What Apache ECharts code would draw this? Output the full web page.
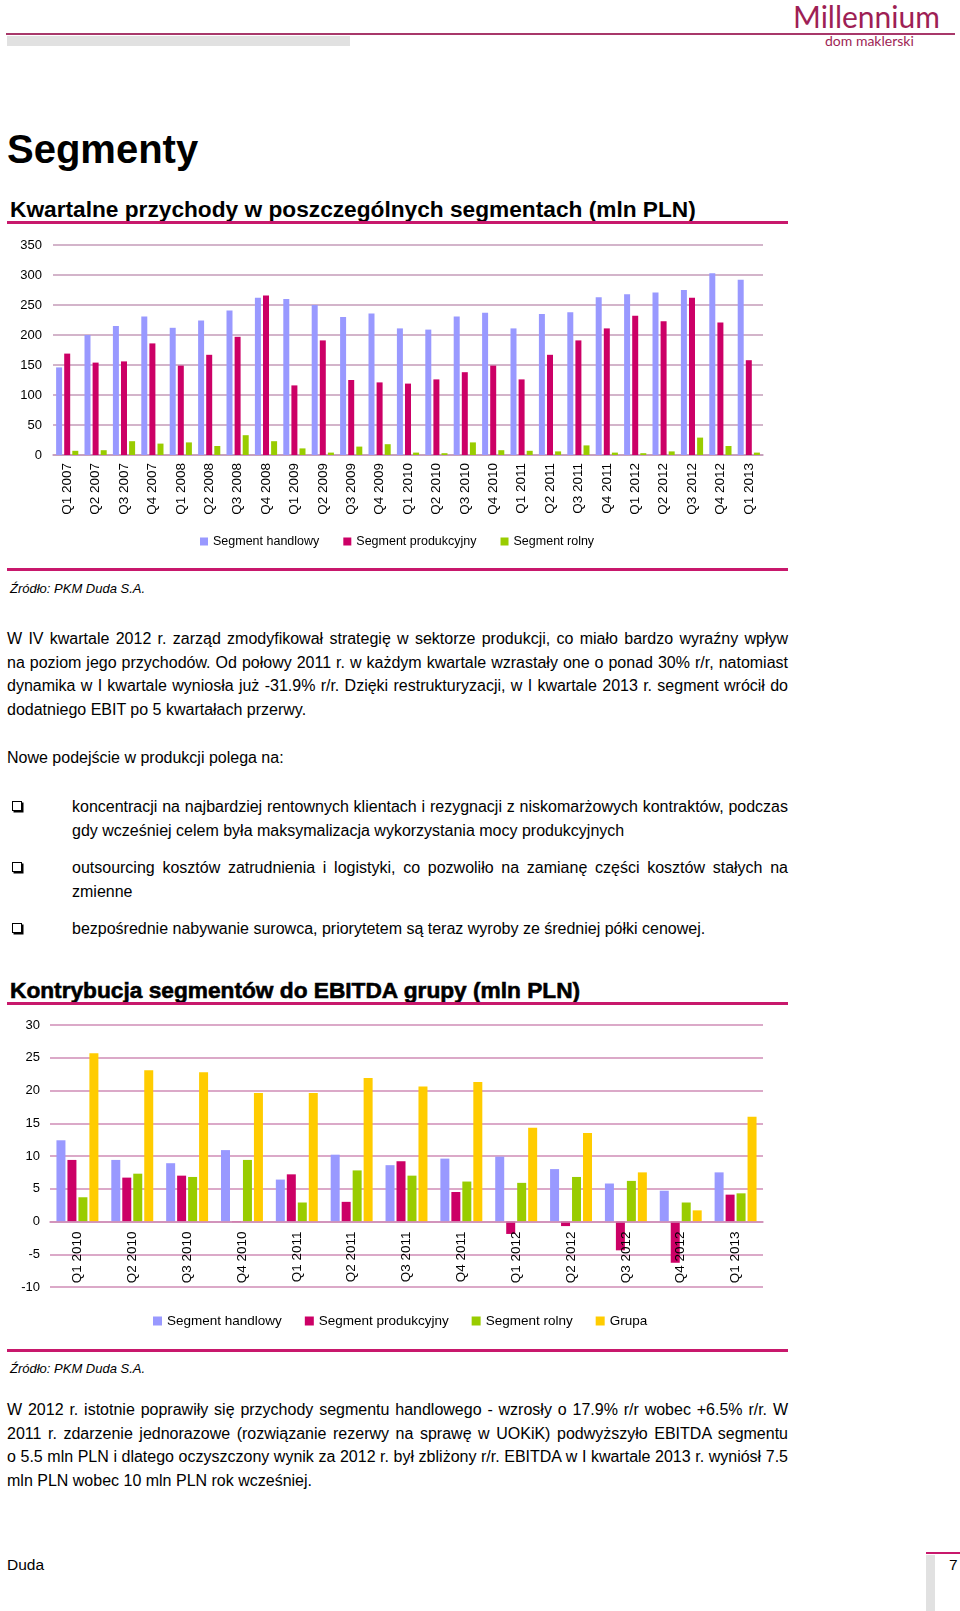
<!DOCTYPE html>
<html>
<head>
<meta charset="utf-8">
<script src="https://cdn.jsdelivr.net/npm/echarts@6/dist/echarts.min.js"></script>
<style>
  html, body { margin: 0; padding: 0; background: #fff; }
  body { width: 960px; height: 1611px; position: relative; overflow: hidden; font-family: 'Liberation Sans', Arial, sans-serif; color: #000; }
  .abs { position: absolute; }
  .h1 { left: 7px; top: 126px; font-size: 40px; font-weight: bold; line-height: 1.15; }
  .h2 { left: 10px; font-size: 22.7px; font-weight: bold; line-height: 1.15; white-space: nowrap; }
  .h2b { -webkit-text-stroke: 0.6px #000; }
  .rule { left: 7px; width: 781px; height: 3px; background: #C8186C; }
  .src { left: 10px; font-size: 13px; font-style: italic; line-height: 1.15; white-space: nowrap; }
  .para { left: 7px; width: 781px; font-size: 16px; line-height: 23.7px; }
  .para div { white-space: nowrap; }
  .j { text-align: justify; text-align-last: justify; }
  .bul { left: 72px; width: 716px; font-size: 16px; line-height: 23.7px; }
  .bul div { white-space: nowrap; }
  .box { position: absolute; left: -60px; top: 6px; width: 8px; height: 8px; border: 1px solid #000; box-shadow: 1.5px 1.5px 0 #000; }
</style>
</head>
<body>
<!-- header -->
<div class="abs" style="left:6px;top:33px;width:949px;height:2px;background:#A8386A;"></div>
<div class="abs" style="left:7px;top:36px;width:343px;height:10px;background:#E1E1E1;"></div>
<div class="abs" style="left:793px;top:-1px;font-family:Lato,'Open Sans',sans-serif;font-size:30px;color:#9E1F55;line-height:1.15;white-space:nowrap;">Millennium</div>
<div class="abs" style="left:825px;top:33px;font-family:Lato,'Open Sans',sans-serif;font-size:14px;color:#9E1F55;line-height:1.15;white-space:nowrap;">dom maklerski</div>

<div class="abs h1">Segmenty</div>

<div class="abs h2" style="top:196px;">Kwartalne przychody w poszczególnych segmentach (mln PLN)</div>
<div class="abs rule" style="top:221px;"></div>

<div id="c1" class="abs" style="left:0;top:230px;width:800px;height:330px;"></div>

<div class="abs rule" style="top:568px;"></div>
<div class="abs src" style="top:582px;">Źródło: PKM Duda S.A.</div>

<div class="abs para" style="top:627px;">
  <div class="j">W IV kwartale 2012 r. zarząd zmodyfikował strategię w sektorze produkcji, co miało bardzo wyraźny wpływ</div>
  <div class="j">na poziom jego przychodów. Od połowy 2011 r. w każdym kwartale wzrastały one o ponad 30% r/r, natomiast</div>
  <div class="j">dynamika w I kwartale wyniosła już -31.9% r/r. Dzięki restrukturyzacji, w I kwartale 2013 r. segment wrócił do</div>
  <div>dodatniego EBIT po 5 kwartałach przerwy.</div>
</div>

<div class="abs para" style="top:746px;"><div>Nowe podejście w produkcji polega na:</div></div>

<div class="abs bul" style="top:795px;">
  <span class="box"></span>
  <div class="j">koncentracji na najbardziej rentownych klientach i rezygnacji z niskomarżowych kontraktów, podczas</div>
  <div>gdy wcześniej celem była maksymalizacja wykorzystania mocy produkcyjnych</div>
</div>
<div class="abs bul" style="top:856px;">
  <span class="box"></span>
  <div class="j">outsourcing kosztów zatrudnienia i logistyki, co pozwoliło na zamianę części kosztów stałych na</div>
  <div>zmienne</div>
</div>
<div class="abs bul" style="top:917px;">
  <span class="box"></span>
  <div>bezpośrednie nabywanie surowca, priorytetem są teraz wyroby ze średniej półki cenowej.</div>
</div>

<div class="abs h2 h2b" style="top:977px;">Kontrybucja segmentów do EBITDA grupy (mln PLN)</div>
<div class="abs rule" style="top:1002px;"></div>

<div id="c2" class="abs" style="left:0;top:1010px;width:800px;height:338px;"></div>

<div class="abs rule" style="top:1349px;"></div>
<div class="abs src" style="top:1362px;">Źródło: PKM Duda S.A.</div>

<div class="abs para" style="top:1398px;">
  <div class="j">W 2012 r. istotnie poprawiły się przychody segmentu handlowego - wzrosły o 17.9% r/r wobec +6.5% r/r. W</div>
  <div class="j">2011 r. zdarzenie jednorazowe (rozwiązanie rezerwy na sprawę w UOKiK) podwyższyło EBITDA segmentu</div>
  <div class="j">o 5.5 mln PLN i dlatego oczyszczony wynik za 2012 r. był zbliżony r/r. EBITDA w I kwartale 2013 r. wyniósł 7.5</div>
  <div>mln PLN wobec 10 mln PLN rok wcześniej.</div>
</div>

<!-- footer -->
<div class="abs" style="left:7px;top:1556px;font-size:15.5px;line-height:1.15;">Duda</div>
<div class="abs" style="left:926px;top:1552px;width:34px;height:2px;background:#C8186C;"></div>
<div class="abs" style="left:926px;top:1555px;width:9px;height:56px;background:#E1E1E1;"></div>
<div class="abs" style="left:949px;top:1556px;font-size:15.5px;line-height:1.15;">7</div>

<script>
// ---------- Chart 1 data: quarterly revenues by segment (mln PLN) ----------
var quarters1 = ['Q1 2007','Q2 2007','Q3 2007','Q4 2007','Q1 2008','Q2 2008','Q3 2008','Q4 2008',
  'Q1 2009','Q2 2009','Q3 2009','Q4 2009','Q1 2010','Q2 2010','Q3 2010','Q4 2010',
  'Q1 2011','Q2 2011','Q3 2011','Q4 2011','Q1 2012','Q2 2012','Q3 2012','Q4 2012','Q1 2013'];
var handlowy1 = [146, 200, 215, 231, 212, 224, 241, 262, 260, 250, 230, 236, 211, 209, 231, 237,
  211, 235, 238, 263, 268, 271, 275, 303, 292];
var produkcyjny1 = [169, 154, 156, 186, 149, 167, 197, 266, 116, 191, 125, 121, 119, 126, 138, 149,
  126, 167, 191, 211, 232, 223, 262, 221, 158];
var rolny1 = [7, 8, 23, 19, 21, 15, 33, 23, 11, 4, 14, 18, 4, 3, 21, 8,
  7, 6, 16, 4, 3, 6, 29, 15, 4];
var ticks1 = { min: 0, max: 350, interval: 50 };

// ---------- Chart 2 data: EBITDA contribution by segment (mln PLN) ----------
var quarters2 = ['Q1 2010','Q2 2010','Q3 2010','Q4 2010','Q1 2011','Q2 2011','Q3 2011','Q4 2011',
  'Q1 2012','Q2 2012','Q3 2012','Q4 2012','Q1 2013'];
var handlowy2 = [12.4, 9.4, 8.9, 10.9, 6.4, 10.2, 8.6, 9.6, 9.9, 8.0, 5.8, 4.7, 7.5];
var produkcyjny2 = [9.4, 6.7, 7.0, -0.1, 7.2, 3.0, 9.2, 4.5, -1.9, -0.7, -4.4, -6.3, 4.1];
var rolny2 = [3.7, 7.3, 6.8, 9.4, 2.9, 7.8, 7.0, 6.1, 5.9, 6.8, 6.2, 2.9, 4.3];
var grupa2 = [25.7, 23.1, 22.8, 19.6, 19.6, 21.9, 20.6, 21.3, 14.3, 13.5, 7.5, 1.7, 16.0];
var ticks2 = { min: -10, max: 30, interval: 5 };

var seriesNames = ['Segment handlowy', 'Segment produkcyjny', 'Segment rolny', 'Grupa'];
var colors = ['#9999FF', '#CC0066', '#99CC00', '#FFCC00'];
var FONT = "'Liberation Sans', Arial, sans-serif";

function barSeries(name, data, color, width, gap) {
  return { name: name, type: 'bar', data: data, barWidth: width, barGap: gap,
    itemStyle: { color: color }, animation: false };
}

var c1 = echarts.init(document.getElementById('c1'), null, { renderer: 'canvas' });
c1.setOption({
  animation: false,
  textStyle: { fontFamily: FONT },
  grid: { left: 53, top: 15, width: 710, height: 210 },
  legend: {
    left: 195, top: 300, itemWidth: 8, itemHeight: 8, itemGap: 24, icon: 'rect',
    textStyle: { fontSize: 12.5, color: '#000', fontFamily: FONT },
    data: seriesNames.slice(0, 3)
  },
  xAxis: {
    type: 'category', data: quarters1,
    axisLine: { lineStyle: { color: '#C59BB9', width: 1.5 } },
    axisTick: { show: false },
    axisLabel: { rotate: 90, interval: 0, fontSize: 13.5, color: '#000', margin: 8, fontFamily: FONT }
  },
  yAxis: {
    type: 'value', min: ticks1.min, max: ticks1.max, interval: ticks1.interval,
    axisLine: { show: false }, axisTick: { show: false },
    splitLine: { lineStyle: { color: '#C59BB9', width: 1.5 } },
    axisLabel: { fontSize: 13, color: '#000', margin: 11, fontFamily: FONT }
  },
  series: [
    barSeries(seriesNames[0], handlowy1, colors[0], 6, '35%'),
    barSeries(seriesNames[1], produkcyjny1, colors[1], 6, '35%'),
    barSeries(seriesNames[2], rolny1, colors[2], 6, '35%')
  ]
});

// chart 2 grid geometry: zero line position inside the grid, so the category axis sits on 0
var grid2 = { left: 50, top: 15, width: 713, height: 262 };
var zeroOffset = grid2.height * (0 - ticks2.min) / (ticks2.max - ticks2.min);

var c2 = echarts.init(document.getElementById('c2'), null, { renderer: 'canvas' });
c2.setOption({
  animation: false,
  textStyle: { fontFamily: FONT },
  grid: grid2,
  legend: {
    left: 148, top: 299, itemWidth: 9, itemHeight: 9, itemGap: 23, icon: 'rect',
    textStyle: { fontSize: 13.5, color: '#000', fontFamily: FONT },
    data: seriesNames
  },
  xAxis: {
    type: 'category', data: quarters2, z: 10,
    offset: -zeroOffset,
    axisLine: { onZero: false, lineStyle: { color: '#CF8DB6', width: 1.5 } },
    axisTick: { show: false },
    axisLabel: { rotate: 90, interval: 0, fontSize: 13.5, color: '#000', margin: 10, fontFamily: FONT }
  },
  yAxis: {
    type: 'value', min: ticks2.min, max: ticks2.max, interval: ticks2.interval,
    axisLine: { show: false }, axisTick: { show: false },
    splitLine: { lineStyle: { color: '#CF8DB6', width: 1.5 } },
    axisLabel: { fontSize: 13, color: '#000', margin: 10, fontFamily: FONT }
  },
  series: [
    barSeries(seriesNames[0], handlowy2, colors[0], 9, '22%'),
    barSeries(seriesNames[1], produkcyjny2, colors[1], 9, '22%'),
    barSeries(seriesNames[2], rolny2, colors[2], 9, '22%'),
    barSeries(seriesNames[3], grupa2, colors[3], 9, '22%')
  ]
});
</script>
</body>
</html>
